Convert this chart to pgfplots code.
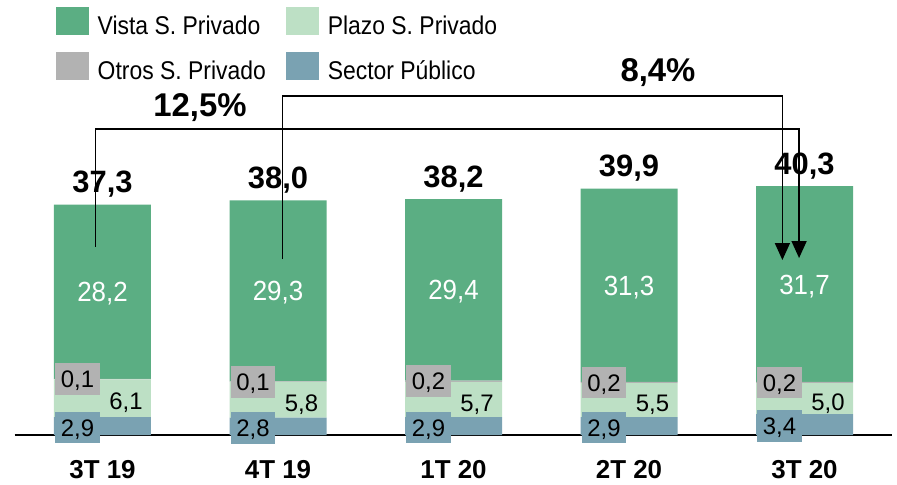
\documentclass[border=0pt]{standalone}
\usepackage{fontspec}
\setmainfont{Liberation Sans}
\usepackage{pgfplots}
\pgfplotsset{compat=1.18}
\usetikzlibrary{arrows.meta}
\definecolor{cVista}{RGB}{91,174,131}
\definecolor{cPlazo}{RGB}{189,224,197}
\definecolor{cOtros}{RGB}{178,178,178}
\definecolor{cPub}{RGB}{122,162,178}
\tikzset{
  vlab/.style={white, font=\fontsize{26}{26}\selectfont, inner sep=0pt, text height=18.6bp, text depth=0pt, anchor=center, yscale=1.07, transform shape},
  zlab/.style={black, font=\fontsize{24}{24}\selectfont, inner sep=0pt, text height=17.2bp, text depth=0pt, anchor=center, xshift=23.5bp, yshift=-3bp},
  blab/.style={black, font=\fontsize{24}{24}\selectfont, inner xsep=5.8bp, inner ysep=7.3bp, text height=17.2bp, text depth=0pt, anchor=center, xshift=-25bp},
  tlab/.style={black, font=\bfseries\fontsize{31}{31}\selectfont, anchor=base, yshift=12bp},
  plab/.style={black, font=\bfseries\fontsize{33}{33}\selectfont, anchor=base},
}
\begin{document}
\begin{tikzpicture}
\begin{axis}[
  scale only axis, width=877.5bp, height=370.5bp,
  xmin=-0.5, xmax=4.5, ymin=0, ymax=60,
  ybar stacked, bar width=97bp,
  axis x line*=bottom, axis y line=none,
  x axis line style={line width=1.5bp, -},
  xtick={0,1,2,3,4}, xticklabels={3T 19,4T 19,1T 20,2T 20,3T 20},
  major tick length=0pt,
  xticklabel style={font=\bfseries\fontsize{26}{26}\selectfont, inner sep=0pt, text height=18.6bp, text depth=0pt, anchor=north, yshift=-25bp},
  ytick=\empty,
  clip=false,
  legend columns=2,
  legend cell align=left,
  legend style={draw=none, fill=none, inner sep=0pt, outer sep=0pt,
    at={(axis cs:-0.2667,69.36)}, anchor=north west,
    font=\fontsize{23}{23}\selectfont, row sep=11.6bp,
    nodes={inner sep=0pt, text height=17bp, text depth=5bp, yscale=1.12, transform shape},
    /tikz/every odd column/.append style={column sep=9bp},
    /tikz/every even column/.append style={column sep=20bp}},
  legend image code/.code={\fill[#1] (0bp,-7bp) rectangle (33bp,21bp);},
]
\addplot[fill=cPub, draw=none, forget plot] coordinates {(0,2.9) (1,2.8) (2,2.9) (3,2.9) (4,3.4)};
\addplot[fill=cPlazo, draw=none, forget plot] coordinates {(0,6.1) (1,5.8) (2,5.7) (3,5.5) (4,5.0)};
\addplot[fill=cOtros, draw=none, forget plot] coordinates {(0,0.1) (1,0.1) (2,0.2) (3,0.2) (4,0.2)};
\addplot[fill=cVista, draw=none, forget plot] coordinates {(0,28.2) (1,29.3) (2,29.4) (3,31.3) (4,31.7)};
\addlegendimage{fill=cVista, draw=none}
\addlegendentry{Vista S. Privado}
\addlegendimage{fill=cPlazo, draw=none}
\addlegendentry{Plazo S. Privado}
\addlegendimage{fill=cOtros, draw=none}
\addlegendentry{Otros S. Privado}
\addlegendimage{fill=cPub, draw=none}
\addlegendentry{Sector Público}
\end{axis}
\begin{axis}[
  scale only axis, width=877.5bp, height=370.5bp,
  xmin=-0.5, xmax=4.5, ymin=0, ymax=60,
  hide axis, clip=false,
]
% Vista labels
\node[vlab] at (axis cs:0,23.2) {28,2};
\node[vlab] at (axis cs:1,23.35) {29,3};
\node[vlab] at (axis cs:2,23.5) {29,4};
\node[vlab] at (axis cs:3,24.25) {31,3};
\node[vlab] at (axis cs:4,24.45) {31,7};
% Plazo labels
\node[zlab] at (axis cs:0,5.95) {6,1};
\node[zlab] at (axis cs:1,5.7) {5,8};
\node[zlab] at (axis cs:2,5.75) {5,7};
\node[zlab] at (axis cs:3,5.65) {5,5};
\node[zlab] at (axis cs:4,5.9) {5,0};
% Otros labels
\node[blab, fill=cOtros] at (axis cs:0,9.05) {0,1};
\node[blab, fill=cOtros] at (axis cs:1,8.65) {0,1};
\node[blab, fill=cOtros] at (axis cs:2,8.7) {0,2};
\node[blab, fill=cOtros] at (axis cs:3,8.5) {0,2};
\node[blab, fill=cOtros] at (axis cs:4,8.5) {0,2};
% Publico labels
\node[blab, fill=cPub, yshift=-1.5bp] at (axis cs:0,1.45) {2,9};
\node[blab, fill=cPub, yshift=-1.5bp] at (axis cs:1,1.4) {2,8};
\node[blab, fill=cPub, yshift=-1.5bp] at (axis cs:2,1.45) {2,9};
\node[blab, fill=cPub, yshift=-1.5bp] at (axis cs:3,1.45) {2,9};
\node[blab, fill=cPub, yshift=-1.5bp] at (axis cs:4,1.7) {3,4};
% totals
\node[tlab] at (axis cs:0,37.3) {37,3};
\node[tlab] at (axis cs:1,38.0) {38,0};
\node[tlab] at (axis cs:2,38.2) {38,2};
\node[tlab] at (axis cs:3,39.9) {39,9};
\node[tlab] at (axis cs:4,40.3) {40,3};
\addplot[black, line width=1.5bp, line join=miter, -{Triangle[width=15bp,length=17bp]}, mark=none] coordinates {(-0.039,30.45) (-0.039,49.55) (3.969,49.55) (3.969,28.66)};
\addplot[black, line width=1.5bp, line join=miter, -{Triangle[width=15bp,length=17bp]}, mark=none] coordinates {(1.027,28.5) (1.027,54.9) (3.874,54.9) (3.874,28.34)};
\node[plab] at (axis cs:0.5556,51.66) {12,5\%};
\node[plab] at (axis cs:3.165,57.33) {8,4\%};
\coordinate (bbSW) at (axis cs:-0.584,-7.935);
\coordinate (bbNE) at (axis cs:4.527,70.45);
\end{axis}
\pgfresetboundingbox
\path[use as bounding box] (bbSW) rectangle (bbNE);
\end{tikzpicture}
\end{document}
